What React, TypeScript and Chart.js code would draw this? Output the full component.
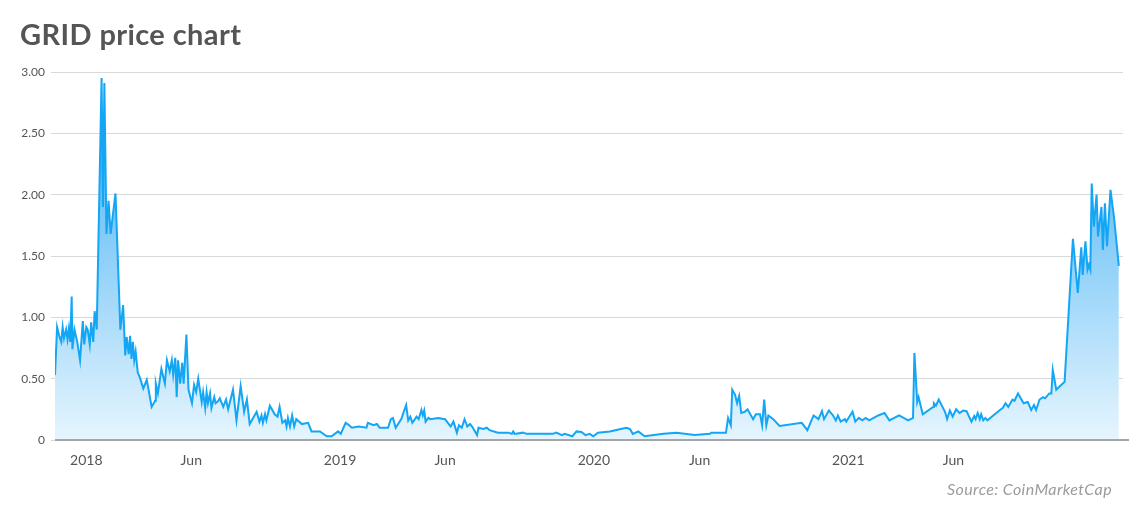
import React, { useEffect, useRef } from 'react';
import { Chart, registerables } from 'chart.js';

Chart.register(...registerables);

const chartTitle = 'GRID price chart';
const sourceNote = 'Source: CoinMarketCap';

// Days since 2018-01-01 for each observation
const dayOffsets = [
  -45, -42, -39, -36, -34, -32, -29, -27, -25, -23, -21, -20, -17, -13, -9, -5, -3, 0, 2, 5,
  7, 10, 12, 15, 22, 24, 26, 29, 32, 35, 42, 49, 53, 56, 58, 61, 63, 65, 67, 69,
  71, 74, 77, 82, 87, 94, 99, 100, 103, 108, 113, 116, 120, 123, 125, 128, 130, 132, 135, 138,
  140, 144, 147, 152, 155, 158, 161, 166, 168, 171, 173, 175, 178, 180, 184, 186, 190, 192, 197, 201,
  204, 211, 216, 222, 227, 231, 235, 245, 249, 252, 254, 257, 259, 264, 271, 275, 278, 282, 286, 288,
  290, 293, 296, 299, 302, 310, 319, 324, 336, 346, 353, 362, 366, 373, 378, 382, 392, 403, 405, 413,
  418, 422, 434, 438, 441, 445, 453, 460, 463, 466, 469, 475, 478, 482, 484, 486, 488, 492, 495, 506,
  516, 520, 524, 528, 533, 536, 540, 544, 548, 552, 556, 562, 564, 571, 576, 580, 592, 607, 612, 614,
  616, 628, 633, 671, 676, 684, 688, 699, 705, 712, 718, 724, 729, 736, 753, 767, 777, 782, 786, 794,
  803, 830, 849, 875, 897, 899, 920, 923, 927, 929, 933, 936, 939, 942, 947, 951, 959, 963, 969, 972,
  975, 978, 981, 988, 997, 1029, 1037, 1046, 1053, 1058, 1061, 1068, 1074, 1078, 1081, 1085, 1091, 1093, 1102, 1106,
  1111, 1116, 1121, 1126, 1139, 1148, 1155, 1169, 1182, 1189, 1191, 1195, 1197, 1203, 1218, 1219, 1222, 1226, 1235, 1238,
  1242, 1246, 1251, 1256, 1261, 1266, 1273, 1277, 1279, 1282, 1285, 1287, 1290, 1293, 1296, 1314, 1318, 1322, 1326, 1332,
  1335, 1340, 1348, 1354, 1359, 1363, 1366, 1371, 1376, 1379, 1385, 1388, 1390, 1395, 1407, 1419, 1426, 1431, 1433, 1437,
  1440, 1442, 1444, 1446, 1449, 1453, 1455, 1460, 1462, 1465, 1468, 1473, 1478, 1485,
];

// GRID price in USD
const prices = [
  0.53, 0.92, 0.85, 0.8, 0.92, 0.83, 0.9, 0.82, 0.91, 0.8, 1.17, 0.74, 0.9, 0.8, 0.65, 0.97, 0.78, 0.92, 0.9, 0.78,
  0.96, 0.8, 1.05, 0.9, 2.95, 1.9, 2.91, 1.68, 1.95, 1.68, 2.01, 0.9, 1.1, 0.69, 0.84, 0.7, 0.85, 0.66, 0.8, 0.65,
  0.72, 0.55, 0.51, 0.42, 0.49, 0.27, 0.32, 0.46, 0.38, 0.58, 0.46, 0.65, 0.56, 0.65, 0.53, 0.67, 0.35, 0.65, 0.46, 0.63,
  0.46, 0.86, 0.41, 0.3, 0.45, 0.39, 0.5, 0.31, 0.39, 0.26, 0.39, 0.3, 0.38, 0.26, 0.35, 0.3, 0.32, 0.34, 0.27, 0.33,
  0.25, 0.41, 0.16, 0.44, 0.23, 0.33, 0.13, 0.23, 0.15, 0.2, 0.14, 0.21, 0.16, 0.28, 0.21, 0.19, 0.27, 0.14, 0.16, 0.11,
  0.18, 0.11, 0.2, 0.11, 0.17, 0.13, 0.14, 0.07, 0.07, 0.03, 0.03, 0.07, 0.05, 0.14, 0.12, 0.1, 0.11, 0.1, 0.14, 0.12,
  0.13, 0.1, 0.1, 0.17, 0.18, 0.1, 0.17, 0.285, 0.16, 0.19, 0.14, 0.19, 0.17, 0.245, 0.2, 0.24, 0.15, 0.18, 0.17, 0.18,
  0.17, 0.14, 0.11, 0.15, 0.06, 0.12, 0.1, 0.17, 0.11, 0.13, 0.1, 0.04, 0.1, 0.09, 0.1, 0.08, 0.06, 0.06, 0.05, 0.07,
  0.05, 0.06, 0.05, 0.05, 0.06, 0.04, 0.05, 0.03, 0.07, 0.065, 0.04, 0.05, 0.03, 0.06, 0.07, 0.087, 0.1, 0.09, 0.05, 0.07,
  0.03, 0.05, 0.06, 0.04, 0.05, 0.06, 0.06, 0.18, 0.12, 0.41, 0.37, 0.3, 0.36, 0.22, 0.23, 0.25, 0.17, 0.21, 0.21, 0.12,
  0.33, 0.12, 0.2, 0.17, 0.114, 0.14, 0.08, 0.2, 0.17, 0.236, 0.17, 0.24, 0.2, 0.16, 0.2, 0.15, 0.17, 0.15, 0.23, 0.15,
  0.18, 0.16, 0.18, 0.16, 0.2, 0.22, 0.16, 0.2, 0.16, 0.18, 0.71, 0.31, 0.35, 0.21, 0.27, 0.3, 0.28, 0.33, 0.23, 0.17,
  0.24, 0.19, 0.25, 0.22, 0.24, 0.235, 0.15, 0.195, 0.17, 0.22, 0.17, 0.21, 0.16, 0.18, 0.16, 0.245, 0.26, 0.3, 0.27, 0.33,
  0.32, 0.38, 0.3, 0.31, 0.245, 0.285, 0.245, 0.33, 0.35, 0.34, 0.38, 0.38, 0.57, 0.41, 0.475, 1.64, 1.2, 1.57, 1.345, 1.62,
  1.39, 1.43, 1.39, 2.09, 1.74, 2.0, 1.66, 1.9, 1.55, 1.93, 1.58, 2.04, 1.82, 1.42,
];

const tickDates = ['2018-01-01', '2018-06-01', '2019-01-01', '2019-06-01', '2020-01-01', '2020-06-01', '2021-01-01', '2021-06-01'];
const tickLabels = ['2018', 'Jun', '2019', 'Jun', '2020', 'Jun', '2021', 'Jun'];
const yTicks = [0, 0.5, 1, 1.5, 2, 2.5, 3];

const EPOCH = Date.UTC(2018, 0, 1);
const toDay = (iso: string) => {
  const [y, m, d] = iso.split('-').map(Number);
  return Math.round((Date.UTC(y, m - 1, d) - EPOCH) / 86400000);
};

const W = 1140;
const H = 509;

export default function App() {
  const ref = useRef<HTMLCanvasElement | null>(null);

  useEffect(() => {
    const canvas = ref.current;
    if (!canvas) return;
    Chart.defaults.font.family = 'Lato, "Noto Sans", sans-serif';

    const decor = {
      id: 'decor',
      afterDatasetsDraw(chart: any) {
        const { ctx, chartArea } = chart;
        ctx.save();
        ctx.strokeStyle = '#a6a6a6';
        ctx.lineWidth = 2;
        ctx.beginPath();
        ctx.moveTo(chartArea.left, chartArea.bottom);
        ctx.lineTo(chartArea.right + 6, chartArea.bottom);
        ctx.stroke();
        ctx.restore();
      },
      afterDraw(chart: any) {
        const { ctx } = chart;
        ctx.save();
        ctx.textBaseline = 'alphabetic';
        ctx.textAlign = 'left';
        ctx.fillStyle = '#555555';
        ctx.font = 'bold 29px Lato';
        try { (ctx as any).letterSpacing = '0.4px'; } catch (e) { /* ignore */ }
        ctx.fillText(chartTitle, 20, 45);
        ctx.textAlign = 'right';
        ctx.fillStyle = '#9b9b9b';
        ctx.font = 'italic 16px Lato';
        try { (ctx as any).letterSpacing = '0.4px'; } catch (e) { /* ignore */ }
        ctx.fillText(sourceNote, 1112, 495);
        ctx.restore();
      },
    };

    const points = dayOffsets.map((d, i) => ({ x: d, y: prices[i] }));

    const chart = new Chart(canvas, {
      type: 'line',
      data: {
        datasets: [
          {
            data: points,
            borderColor: '#12a6f5',
            borderWidth: 2,
            pointRadius: 0,
            tension: 0,
            fill: 'origin',
            backgroundColor: (c: any) => {
              const area = c.chart.chartArea;
              if (!area) return 'rgba(120,200,248,0.5)';
              const g = c.chart.ctx.createLinearGradient(0, area.top, 0, area.bottom);
              g.addColorStop(0, '#36aaf3');
              g.addColorStop(1, '#e6f5fe');
              return g;
            },
          },
        ],
      },
      options: {
        responsive: false,
        animation: false,
        events: [],
        layout: { padding: { top: 72, right: 17, bottom: 39, left: 0 } },
        plugins: {
          legend: { display: false },
          tooltip: { enabled: false },
          title: { display: false },
        },
        scales: {
          x: {
            type: 'linear',
            min: -45,
            max: 1491,
            grid: { display: false, drawTicks: false },
            border: { display: false },
            afterBuildTicks: (scale: any) => {
              scale.ticks = tickDates.map((d) => ({ value: toDay(d) }));
            },
            afterFit: (scale: any) => {
              scale.height = 30;
            },
            ticks: {
              autoSkip: false,
              maxRotation: 0,
              padding: 12,
              color: '#555555',
              font: { size: 14 },
              callback: (_v: any, i: number) => tickLabels[i],
            },
          },
          y: {
            min: 0,
            max: 3,
            afterBuildTicks: (scale: any) => {
              scale.ticks = yTicks.map((v) => ({ value: v }));
            },
            afterFit: (scale: any) => {
              scale.width = 55;
            },
            grid: { color: '#d9d9d9', lineWidth: 1, tickLength: 4, drawTicks: true },
            border: { display: false },
            ticks: {
              padding: 6,
              color: '#555555',
              font: { size: 12 },
              callback: (v: any) => (Number(v) === 0 ? '0' : Number(v).toFixed(2)),
            },
          },
        },
      },
      plugins: [decor],
    } as any);

    return () => chart.destroy();
  }, []);

  return (
    <div style={{ position: 'fixed', left: 0, top: 0, width: W, height: H, background: '#ffffff' }}>
      <canvas ref={ref} width={W} height={H} style={{ width: W, height: H, display: 'block' }} />
    </div>
  );
}
